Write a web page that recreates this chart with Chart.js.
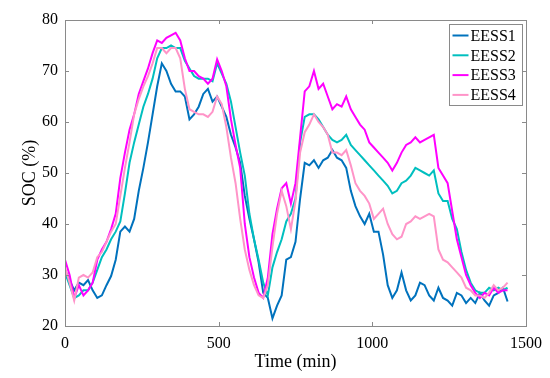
<!DOCTYPE html>
<html>
<head>
<meta charset="utf-8">
<script src="https://cdn.jsdelivr.net/npm/chart.js@4"></script>
<style>
  body { margin: 0; background: #fff; }
  canvas { display: block; }
</style>
</head>
<body>
<canvas id="grafico" width="550" height="378"></canvas>
<script>
// Tempo (min), um ponto a cada 15 min
const tempo = [];
for (let t = 0; t <= 1440; t += 15) tempo.push(t);

const nomes = ["EESS1", "EESS2", "EESS3", "EESS4"];
const cores = ["#0072BD", "#00BFBF", "#FF00FF", "#FF94C8"];

// SOC (%)
const eess1 = [31, 29, 27, 28.5, 28, 29, 27, 25.5, 26, 28, 29.8, 33, 38.5, 39.5, 38.5, 41, 46.5, 51, 56, 61.5,
  67, 71.5, 70, 67.5, 66, 66, 65, 60.5, 61.5, 63, 65.5, 66.5, 64, 65, 63, 61, 57.5, 55, 52, 45.5,
  41, 37, 32.5, 26.5, 25.5, 21.5, 24, 26, 33, 33.5, 36.5, 45, 52, 51.5, 52.5, 51, 52.5, 53, 54.5, 53,
  52.5, 51, 46.5, 43.5, 41.5, 40, 42, 38.5, 38.5, 34, 28, 25.5, 27, 30.5, 27, 25, 26, 28.5, 28, 26,
  25, 27.5, 25.5, 25, 24, 26.5, 26, 24.5, 25.5, 24.5, 26.5, 25, 24, 26, 26.5, 27.5, 24.8];
const eess2 = [30.5, 28, 25.5, 26, 27, 27, 28.5, 31, 33.5, 35, 37, 38.5, 40.5, 46, 52, 56, 59.5, 63, 65.5, 68.5,
  72.5, 74.5, 74.5, 75, 74.5, 74.5, 72, 70.5, 69, 68.5, 68.5, 68.5, 68, 71.5, 69.5, 67.5, 64, 59, 54, 49.5,
  42, 37, 33, 28.5, 26, 31.5, 34.5, 37, 40.5, 42, 45, 56, 61, 61.5, 61.5, 60.5, 59, 57.5, 56.5, 56,
  56.5, 57.5, 55.5, 54.5, 53.5, 52.5, 51.5, 50.5, 49.5, 48.5, 47.5, 46, 46.5, 48, 48.5, 49.5, 51, 50.5, 50, 49.5,
  50.5, 46, 44.5, 44.5, 41, 39, 34.5, 31, 28.5, 27, 26.5, 26.5, 27.5, 27, 27.5, 27, 27.5];
const eess3 = [33, 30, 25.5, 28, 26, 27, 28.5, 33, 35, 36.5, 39, 42, 49, 54, 58.5, 61.5, 65.5, 68, 70.5, 73.5,
  76, 75.5, 76.5, 77, 77.5, 76, 72.5, 70, 70, 69, 68.5, 67.5, 68.5, 72.3, 70, 67, 60.5, 55.5, 51, 40,
  33.5, 29.5, 26.5, 25.5, 29.5, 38, 43, 47, 48, 44, 48, 57, 66, 67, 70, 66.5, 67.5, 65, 62.5, 63.5,
  63, 65, 62.5, 61, 59.5, 58.5, 56, 55, 54, 53, 52, 50.5, 52, 54, 55.5, 56, 57, 56, 56.5, 57,
  57.5, 51, 49.5, 48, 42.5, 37, 33.5, 30, 28, 26.5, 25.5, 26.5, 26, 27.5, 26.5, 27, 27];
const eess4 = [31.5, 28.5, 25, 29.5, 30, 29.5, 30.5, 33.5, 34.5, 36.5, 38.5, 40, 45.5, 51, 56, 61.5, 64.5, 67, 69, 71.5,
  74.5, 74.5, 73.5, 74.5, 74.5, 72.5, 66.5, 62.5, 62, 61.5, 61.5, 61, 62, 65, 63.5, 59, 53, 48, 41, 35,
  31, 28, 26, 25.5, 28, 35.5, 42, 46.5, 43.5, 39, 44.5, 54, 58, 59.5, 61.5, 60, 59, 57.5, 54, 54,
  53.5, 54.5, 51.5, 48, 46.5, 45.5, 44, 41, 42, 43, 40, 38, 37, 37.5, 40, 40.5, 41.5, 41, 41.5, 42,
  41.5, 35, 33, 32.5, 31.5, 30.5, 29.5, 27.5, 27, 26, 26, 25.5, 26.5, 28, 27, 27.5, 28.5];
const series = [eess1, eess2, eess3, eess4];

const xTicks = [0, 500, 1000, 1500];
const yTicks = [20, 30, 40, 50, 60, 70, 80];

const fonte = "'Liberation Serif', 'Times New Roman', serif";

// Moldura, marcas internas e legenda no estilo MATLAB
const molduraPlugin = {
    id: "moldura",
    afterDatasetsDraw(chart) {
        const { ctx, chartArea: a, scales } = chart;
        ctx.save();
        ctx.strokeStyle = "#8a8a8a";
        ctx.lineWidth = 1;
        ctx.strokeRect(Math.round(a.left) + 0.5, Math.round(a.top) + 0.5,
            Math.round(a.right - a.left), Math.round(a.bottom - a.top));
        ctx.beginPath();
        xTicks.forEach(v => {
            const x = Math.round(scales.x.getPixelForValue(v)) + 0.5;
            ctx.moveTo(x, a.bottom); ctx.lineTo(x, a.bottom - 4);
            ctx.moveTo(x, a.top); ctx.lineTo(x, a.top + 4);
        });
        yTicks.forEach(v => {
            const y = Math.round(scales.y.getPixelForValue(v)) + 0.5;
            ctx.moveTo(a.left, y); ctx.lineTo(a.left + 4, y);
            ctx.moveTo(a.right, y); ctx.lineTo(a.right - 4, y);
        });
        ctx.stroke();

        // legenda
        const bx = Math.round(a.right) - 77 + 0.5, by = Math.round(a.top) + 4 + 0.5;
        ctx.fillStyle = "#fff";
        ctx.fillRect(bx, by, 73, 81);
        ctx.strokeStyle = "#8a8a8a";
        ctx.strokeRect(bx, by, 73, 81);
        ctx.font = "16px " + fonte;
        ctx.textBaseline = "middle";
        ctx.textAlign = "left";
        nomes.forEach((n, i) => {
            const y = by + 11 + i * 19.8;
            ctx.strokeStyle = cores[i];
            ctx.lineWidth = 2;
            ctx.beginPath();
            ctx.moveTo(bx + 3, y); ctx.lineTo(bx + 19, y);
            ctx.stroke();
            ctx.fillStyle = "#000";
            ctx.fillText(n, bx + 21, y + 1);
        });
        ctx.restore();
    }
};

const ctx = document.getElementById("grafico").getContext("2d");
new Chart(ctx, {
    type: "line",
    data: {
        datasets: series.map((s, i) => ({
            label: nomes[i],
            data: tempo.map((t, k) => ({ x: t, y: s[k] })),
            borderColor: cores[i],
            borderWidth: 2,
            pointRadius: 0,
            tension: 0,
            fill: false,
            order: 4 - i
        }))
    },
    options: {
        responsive: false,
        animation: false,
        devicePixelRatio: 1,
        layout: { padding: { top: 20, right: 24, left: 0, bottom: 0 } },
        plugins: { legend: { display: false }, tooltip: { enabled: false } },
        scales: {
            x: {
                type: "linear",
                min: 0, max: 1500,
                afterFit: s => { s.height = 52; },
                afterBuildTicks: s => { s.ticks = xTicks.map(v => ({ value: v })); },
                grid: { display: false, drawTicks: false },
                border: { display: false },
                ticks: { padding: 8, color: "#000", font: { family: fonte, size: 16 },
                    callback: v => String(v) },
                title: { display: true, text: "Time (min)", color: "#000",
                    font: { family: fonte, size: 18 }, padding: { top: 0, bottom: 5 } }
            },
            y: {
                min: 20, max: 80,
                afterFit: s => { s.width = 65; },
                afterBuildTicks: s => { s.ticks = yTicks.map(v => ({ value: v })); },
                grid: { display: false, drawTicks: false },
                border: { display: false },
                ticks: { padding: 7, color: "#000", font: { family: fonte, size: 16 },
                    callback: v => String(v) },
                title: { display: true, text: "SOC (%)", color: "#000",
                    font: { family: fonte, size: 18 }, padding: { top: 19, bottom: 0 } }
            }
        }
    },
    plugins: [molduraPlugin]
});
</script>
</body>
</html>
